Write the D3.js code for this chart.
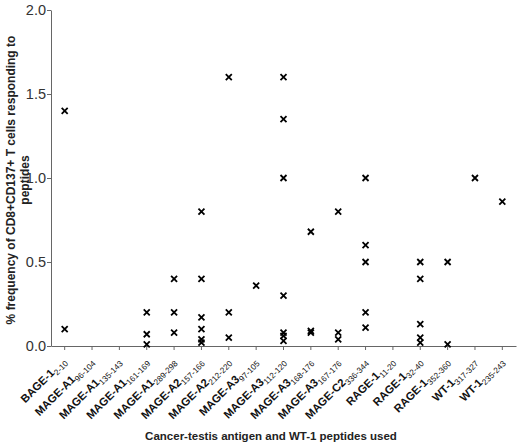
<!DOCTYPE html>
<html>
<head>
<meta charset="utf-8">
<script src="https://cdn.jsdelivr.net/npm/d3@7"></script>
<style>
  html, body { margin: 0; padding: 0; background: #fff; }
  svg { display: block; }
</style>
</head>
<body>
<svg id="chart" width="520" height="446"></svg>
<script>
// Category names and peptide ranges (shown as subscripts)
const antigenNames = ["BAGE-1", "MAGE-A1", "MAGE-A1", "MAGE-A1", "MAGE-A1", "MAGE-A2", "MAGE-A2",
  "MAGE-A3", "MAGE-A3", "MAGE-A3", "MAGE-A3", "MAGE-C2", "RAGE-1", "RAGE-1", "RAGE-1", "WT-1", "WT-1"];
const peptideRanges = ["2-10", "96-104", "135-143", "161-169", "289-298", "157-166", "212-220",
  "97-105", "112-120", "168-176", "167-176", "336-344", "11-20", "32-40", "352-360", "317-327", "235-243"];
// % frequency values per category
const responses = [
  [1.40, 0.10],
  [],
  [],
  [0.20, 0.07, 0.01],
  [0.40, 0.20, 0.08],
  [0.80, 0.40, 0.17, 0.10, 0.04, 0.02],
  [1.60, 0.20, 0.05],
  [0.36],
  [1.60, 1.35, 1.00, 0.30, 0.08, 0.06, 0.03],
  [0.68, 0.08, 0.09],
  [0.80, 0.08, 0.04],
  [1.00, 0.60, 0.50, 0.20, 0.11],
  [],
  [0.50, 0.40, 0.13, 0.05, 0.02],
  [0.50, 0.01],
  [1.00],
  [0.86]
];
const yTicks = [0, 0.5, 1.0, 1.5, 2.0];
const yLabelLines = ["% frequency of CD8+CD137+ T cells responding to", "peptides"];
const xTitle = "Cancer-testis antigen and WT-1 peptides used";

(function () {
const svg = d3.select("#chart");
const mLeft = 51, mRight = 516, mTop = 10, mBottom = 346;
const axisColor = "#666";
const font = "Liberation Sans, Arial, sans-serif";

const keys = antigenNames.map((d, i) => i);
const x = d3.scaleBand().domain(keys).range([mLeft, mRight]).padding(0);
const y = d3.scaleLinear().domain([0, 2]).range([mBottom, mTop]);

// Y axis
const yAxis = svg.append("g").attr("transform", `translate(${mLeft},0)`)
  .call(d3.axisLeft(y).tickValues(yTicks).tickFormat(d3.format(".1f")).tickSize(4).tickSizeOuter(0));
yAxis.select(".domain").attr("stroke", axisColor);
yAxis.selectAll(".tick line").attr("stroke", axisColor);
yAxis.selectAll(".tick text")
  .attr("font-family", font)
  .attr("font-size", 14.5).attr("fill", "#333").attr("x", -5);

// X axis
const xAxis = svg.append("g").attr("transform", `translate(0,${mBottom})`)
  .call(d3.axisBottom(x).tickSize(4).tickSizeOuter(0).tickFormat(""));
xAxis.select(".domain").attr("stroke", axisColor);
xAxis.selectAll(".tick line").attr("stroke", axisColor);

// X tick labels, rotated, with subscripts
const lbl = svg.append("g").selectAll("text").data(keys).join("text")
  .attr("transform", d => `translate(${x(d) + x.bandwidth() / 2 + 2},${mBottom + 16}) rotate(-45)`)
  .attr("text-anchor", "end")
  .attr("font-family", font)
  .attr("font-weight", "bold")
  .attr("font-size", 11.2)
  .attr("fill", "#111");
lbl.append("tspan").text(d => antigenNames[d]);
lbl.append("tspan").attr("font-size", 8.2).attr("font-weight", "normal").attr("dy", 3).text(d => peptideRanges[d]);

// Points
const pts = [];
responses.forEach((vals, i) => vals.forEach(v => pts.push({ i, v })));
const s = 3;
svg.append("g").selectAll("path").data(pts).join("path")
  .attr("transform", d => `translate(${x(d.i) + x.bandwidth() / 2},${y(d.v)})`)
  .attr("d", `M${-s},${-s}L${s},${s}M${-s},${s}L${s},${-s}`)
  .attr("stroke", "#000").attr("stroke-width", 1.8).attr("fill", "none");

// Y label
const yl = svg.append("text")
  .attr("transform", `translate(15,${(mTop + mBottom) / 2 + 2}) rotate(-90)`)
  .attr("text-anchor", "middle")
  .attr("font-family", font)
  .attr("font-weight", "bold").attr("font-size", 12).attr("fill", "#222");
yl.selectAll("tspan").data(yLabelLines).join("tspan")
  .attr("x", 0).attr("dy", (d, i) => i === 0 ? 0 : 14).text(d => d);

// X title
svg.append("text")
  .attr("x", 271).attr("y", 440)
  .attr("text-anchor", "middle")
  .attr("font-family", font)
  .attr("font-weight", "bold").attr("font-size", 11.5).attr("fill", "#222")
  .text(xTitle);
})();
</script>
</body>
</html>
